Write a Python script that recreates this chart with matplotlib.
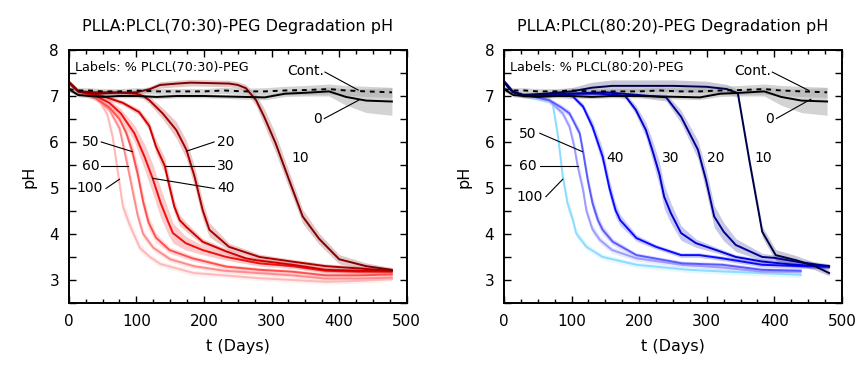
import matplotlib.pyplot as plt
from matplotlib.ticker import MultipleLocator

# controls are the same in both panels
ctrl_days = [0, 14, 30, 50, 75, 100, 130, 160, 200, 230, 260, 290, 320, 350, 385, 410, 440, 478]
cont_ph = [7.15, 7.12, 7.12, 7.1, 7.1, 7.12, 7.1, 7.1, 7.1, 7.12, 7.1, 7.1, 7.12, 7.13, 7.15, 7.12, 7.1, 7.08]
cont_sd = [0.07, 0.06, 0.06, 0.06, 0.06, 0.06, 0.06, 0.06, 0.06, 0.07, 0.07, 0.08, 0.09, 0.1, 0.11, 0.11, 0.11, 0.11]
zero_ph = [7.15, 7.02, 7.0, 6.98, 7.0, 7.0, 6.98, 7.0, 7.0, 6.99, 6.98, 6.97, 7.05, 7.07, 7.1, 6.98, 6.9, 6.88]
zero_sd = [0.05, 0.04, 0.04, 0.04, 0.04, 0.04, 0.04, 0.04, 0.04, 0.04, 0.05, 0.05, 0.06, 0.07, 0.1, 0.18, 0.26, 0.3]

# ---- PLLA:PLCL(70:30)-PEG ----
a10_days = [0, 14, 40, 70, 100, 120, 135, 160, 180, 210, 237, 250, 262, 277, 289, 306, 326, 346, 370, 400, 440, 478]
a10_ph = [7.3, 7.1, 7.05, 7.07, 7.08, 7.15, 7.24, 7.27, 7.29, 7.28, 7.27, 7.24, 7.17, 6.91, 6.55, 5.97, 5.17, 4.38, 3.9, 3.45, 3.3, 3.22]
a10_sd = [0.05, 0.05, 0.05, 0.05, 0.05, 0.06, 0.07, 0.07, 0.07, 0.07, 0.07, 0.07, 0.08, 0.12, 0.18, 0.2, 0.18, 0.15, 0.12, 0.1, 0.07, 0.05]

a20_days = [0, 14, 40, 70, 100, 110, 119, 139, 159, 174, 186, 198, 208, 237, 282, 330, 380, 430, 478]
a20_ph = [7.3, 7.1, 7.08, 7.08, 7.05, 7.0, 6.91, 6.62, 6.26, 5.83, 5.25, 4.52, 4.09, 3.72, 3.5, 3.4, 3.3, 3.25, 3.2]
a20_sd = [0.05, 0.05, 0.05, 0.05, 0.05, 0.06, 0.08, 0.12, 0.18, 0.2, 0.22, 0.2, 0.15, 0.08, 0.06, 0.05, 0.05, 0.05, 0.05]

a30_days = [0, 14, 50, 80, 104, 119, 129, 142, 149, 156, 164, 174, 198, 233, 262, 277, 331, 380, 430, 478]
a30_ph = [7.3, 7.1, 7.0, 6.85, 6.65, 6.35, 5.9, 5.48, 5.03, 4.6, 4.3, 4.15, 3.83, 3.62, 3.47, 3.43, 3.33, 3.22, 3.2, 3.2]
a30_sd = [0.05, 0.05, 0.05, 0.05, 0.07, 0.1, 0.15, 0.18, 0.18, 0.15, 0.12, 0.1, 0.07, 0.06, 0.05, 0.05, 0.05, 0.05, 0.05, 0.05]

a40_days = [0, 14, 40, 60, 77, 97, 112, 124, 136, 146, 154, 173, 198, 233, 282, 331, 380, 430, 478]
a40_ph = [7.3, 7.1, 7.0, 6.85, 6.62, 6.19, 5.68, 5.21, 4.67, 4.3, 4.02, 3.8, 3.65, 3.5, 3.36, 3.3, 3.2, 3.18, 3.18]
a40_sd = [0.05, 0.05, 0.05, 0.07, 0.1, 0.18, 0.28, 0.32, 0.32, 0.28, 0.22, 0.15, 0.1, 0.07, 0.06, 0.05, 0.05, 0.05, 0.05]

a50_days = [0, 14, 40, 60, 75, 85, 94, 102, 110, 118, 129, 149, 183, 233, 282, 330, 380, 430, 478]
a50_ph = [7.3, 7.1, 6.95, 6.75, 6.5, 6.2, 5.79, 5.3, 4.7, 4.25, 3.92, 3.65, 3.47, 3.29, 3.22, 3.18, 3.1, 3.1, 3.12]
a50_sd = [0.05, 0.05, 0.05, 0.06, 0.08, 0.12, 0.18, 0.2, 0.18, 0.15, 0.1, 0.07, 0.06, 0.05, 0.05, 0.05, 0.05, 0.05, 0.05]

a60_days = [0, 14, 40, 60, 75, 87, 95, 102, 110, 125, 150, 185, 230, 280, 330, 380, 430, 478]
a60_ph = [7.3, 7.1, 6.95, 6.7, 6.3, 5.48, 4.9, 4.4, 4.0, 3.7, 3.45, 3.3, 3.2, 3.15, 3.1, 3.03, 3.03, 3.05]
a60_sd = [0.05, 0.05, 0.05, 0.07, 0.12, 0.18, 0.18, 0.15, 0.1, 0.07, 0.06, 0.05, 0.05, 0.05, 0.05, 0.05, 0.05, 0.05]

a100_days = [0, 14, 30, 45, 57, 65, 72, 80, 90, 105, 120, 135, 160, 185, 230, 280, 330, 380, 430, 478]
a100_ph = [7.3, 7.1, 7.05, 6.9, 6.6, 6.1, 5.4, 4.6, 4.2, 3.7, 3.5, 3.35, 3.25, 3.15, 3.1, 3.04, 3.0, 2.96, 2.98, 3.02]
a100_sd = [0.05, 0.05, 0.05, 0.06, 0.1, 0.15, 0.18, 0.18, 0.15, 0.1, 0.07, 0.06, 0.06, 0.06, 0.05, 0.05, 0.05, 0.05, 0.05, 0.05]

# ---- PLLA:PLCL(80:20)-PEG ----
b10_days = [0, 13, 28, 60, 100, 130, 160, 200, 250, 300, 330, 346, 363, 378, 382, 402, 432, 460, 481]
b10_ph = [7.31, 7.09, 7.02, 7.05, 7.1, 7.18, 7.22, 7.22, 7.22, 7.2, 7.15, 7.06, 5.6, 4.38, 4.05, 3.54, 3.43, 3.3, 3.15]
b10_sd = [0.05, 0.05, 0.05, 0.06, 0.08, 0.12, 0.13, 0.13, 0.13, 0.12, 0.1, 0.08, 0.1, 0.12, 0.12, 0.12, 0.1, 0.08, 0.06]

b20_days = [0, 13, 28, 60, 100, 150, 200, 240, 262, 287, 299, 311, 325, 343, 382, 400, 440, 481]
b20_ph = [7.31, 7.09, 7.02, 7.02, 7.05, 7.08, 7.02, 6.97, 6.55, 5.83, 5.17, 4.38, 4.05, 3.76, 3.5, 3.48, 3.38, 3.3]
b20_sd = [0.05, 0.05, 0.05, 0.05, 0.05, 0.05, 0.05, 0.08, 0.14, 0.2, 0.24, 0.24, 0.2, 0.14, 0.08, 0.06, 0.05, 0.05]

b30_days = [0, 13, 28, 60, 100, 140, 170, 180, 195, 210, 220, 230, 237, 247, 262, 284, 314, 343, 382, 430, 481]
b30_ph = [7.31, 7.09, 7.02, 7.02, 7.05, 7.05, 7.02, 6.99, 6.7, 6.26, 5.8, 5.3, 4.81, 4.45, 4.02, 3.8, 3.65, 3.5, 3.4, 3.33, 3.29]
b30_sd = [0.05, 0.05, 0.05, 0.05, 0.05, 0.05, 0.05, 0.06, 0.1, 0.16, 0.22, 0.26, 0.26, 0.22, 0.16, 0.09, 0.06, 0.05, 0.05, 0.05, 0.05]

b40_days = [0, 13, 28, 50, 80, 102, 117, 131, 146, 156, 165, 172, 196, 225, 262, 289, 323, 382, 440, 481]
b40_ph = [7.31, 7.09, 7.02, 7.02, 7.03, 6.99, 6.77, 6.33, 5.68, 5.0, 4.52, 4.3, 3.91, 3.72, 3.54, 3.54, 3.47, 3.33, 3.3, 3.29]
b40_sd = [0.05, 0.05, 0.05, 0.05, 0.05, 0.05, 0.07, 0.12, 0.18, 0.18, 0.15, 0.12, 0.07, 0.05, 0.05, 0.05, 0.05, 0.05, 0.05, 0.05]

b50_days = [0, 13, 28, 48, 67, 85, 97, 112, 117, 124, 131, 139, 146, 161, 196, 264, 323, 382, 439]
b50_ph = [7.31, 7.09, 7.02, 6.97, 6.91, 6.75, 6.62, 6.19, 5.79, 5.17, 4.67, 4.3, 4.09, 3.83, 3.54, 3.36, 3.33, 3.22, 3.2]
b50_sd = [0.05, 0.05, 0.05, 0.05, 0.05, 0.06, 0.07, 0.1, 0.13, 0.15, 0.15, 0.12, 0.1, 0.07, 0.05, 0.05, 0.05, 0.05, 0.05]

b60_days = [0, 13, 28, 48, 67, 87, 97, 104, 109, 117, 122, 131, 142, 160, 196, 264, 323, 382, 439]
b60_ph = [7.31, 7.09, 7.02, 6.97, 6.9, 6.62, 6.33, 5.9, 5.48, 4.96, 4.5, 4.1, 3.87, 3.65, 3.47, 3.33, 3.27, 3.18, 3.18]
b60_sd = [0.05, 0.05, 0.05, 0.05, 0.05, 0.07, 0.1, 0.13, 0.15, 0.15, 0.13, 0.1, 0.08, 0.07, 0.06, 0.05, 0.05, 0.05, 0.05]

b100_days = [0, 13, 28, 48, 62, 72, 80, 87, 94, 102, 107, 122, 146, 196, 274, 330, 382, 439]
b100_ph = [7.31, 7.09, 7.02, 6.95, 6.91, 6.84, 6.12, 5.25, 4.67, 4.3, 4.01, 3.72, 3.5, 3.33, 3.22, 3.18, 3.15, 3.11]
b100_sd = [0.05, 0.05, 0.05, 0.05, 0.05, 0.07, 0.12, 0.15, 0.15, 0.12, 0.1, 0.07, 0.06, 0.06, 0.06, 0.06, 0.06, 0.06]

red_colors = {"10": "#7f0000", "20": "#a80000", "30": "#d00000", "40": "#f01010",
              "50": "#ff5050", "60": "#ff8c8c", "100": "#ffb8b8"}
blue_colors = {"10": "#00004a", "20": "#000090", "30": "#0000d0", "40": "#0a0aff",
               "50": "#5a5aff", "60": "#9c9cff", "100": "#8cdcff"}

left_series = [("100", a100_days, a100_ph, a100_sd), ("60", a60_days, a60_ph, a60_sd),
               ("50", a50_days, a50_ph, a50_sd), ("40", a40_days, a40_ph, a40_sd),
               ("30", a30_days, a30_ph, a30_sd), ("20", a20_days, a20_ph, a20_sd),
               ("10", a10_days, a10_ph, a10_sd)]
right_series = [("100", b100_days, b100_ph, b100_sd), ("60", b60_days, b60_ph, b60_sd),
                ("50", b50_days, b50_ph, b50_sd), ("40", b40_days, b40_ph, b40_sd),
                ("30", b30_days, b30_ph, b30_sd), ("20", b20_days, b20_ph, b20_sd),
                ("10", b10_days, b10_ph, b10_sd)]


def band(ax, x, y, sd, color, alpha):
    lo = [v - s for v, s in zip(y, sd)]
    hi = [v + s for v, s in zip(y, sd)]
    ax.fill_between(x, lo, hi, color=color, alpha=alpha, linewidth=0)


def label(ax, text, xy, start=None, end=None, ha="left"):
    ax.text(xy[0], xy[1], text, fontsize=10, ha=ha, va="center")
    if start is not None:
        ax.plot([start[0], end[0]], [start[1], end[1]], color="black", lw=0.8)


def draw_panel(ax, series, colors, title, plcl):
    for name, d, ph, sd in series:
        band(ax, d, ph, sd, colors[name], 0.22)
        ax.plot(d, ph, color=colors[name], lw=1.4)
    band(ax, ctrl_days, zero_ph, zero_sd, "#a8a8a8", 0.5)
    band(ax, ctrl_days, cont_ph, cont_sd, "#a8a8a8", 0.5)
    ax.plot(ctrl_days, zero_ph, color="black", lw=1.4)
    ax.plot(ctrl_days, cont_ph, color="black", lw=1.4, ls=(0, (2.5, 2.5)))

    ax.set_xlim(0, 500)
    ax.set_ylim(2.5, 8)
    ax.set_yticks([3, 4, 5, 6, 7, 8])
    ax.xaxis.set_major_locator(MultipleLocator(100))
    ax.xaxis.set_minor_locator(MultipleLocator(25))
    ax.yaxis.set_minor_locator(MultipleLocator(0.5))
    ax.tick_params(which="both", direction="in", top=True, right=True, width=1)
    ax.tick_params(which="major", length=5, labelsize=11)
    ax.tick_params(axis="x", which="major", pad=8)
    ax.tick_params(axis="y", which="major", pad=7)
    ax.tick_params(axis="x", which="minor", length=3)
    ax.tick_params(axis="y", which="minor", length=5)
    for s in ax.spines.values():
        s.set_linewidth(1.4)
    ax.set_xlabel("t (Days)", fontsize=11.5, labelpad=7)
    ax.set_ylabel("pH", fontsize=11.5, labelpad=9)
    ax.set_title(title, fontsize=11.5, pad=14)
    ax.text(9, 7.63, f"Labels: % PLCL({plcl})-PEG", fontsize=9.2, ha="left", va="center")


fig = plt.figure(figsize=(8.6, 3.65), dpi=100)
ax1 = fig.add_axes([0.080, 0.170, 0.393, 0.693])
ax2 = fig.add_axes([0.586, 0.170, 0.393, 0.693])

draw_panel(ax1, left_series, red_colors, "PLLA:PLCL(70:30)-PEG Degradation pH", "70:30")
draw_panel(ax2, right_series, blue_colors, "PLLA:PLCL(80:20)-PEG Degradation pH", "80:20")

# left annotations
label(ax1, "Cont.", (377, 7.54), (379, 7.52), (428, 7.13), ha="right")
label(ax1, "0", (375, 6.5), (378, 6.51), (429, 6.91), ha="right")
label(ax1, "10", (330, 5.65))
label(ax1, "20", (219, 6.0), (215, 6.0), (174, 5.8))
label(ax1, "30", (219, 5.48), (215, 5.48), (142, 5.48))
label(ax1, "40", (219, 4.99), (215, 4.99), (124, 5.21))
label(ax1, "50", (45, 6.0), (48, 6.0), (94, 5.79), ha="right")
label(ax1, "60", (45, 5.48), (48, 5.48), (87, 5.48), ha="right")
label(ax1, "100", (51, 4.99), (55, 4.99), (75, 5.19), ha="right")

# right annotations
label(ax2, "Cont.", (395, 7.54), (397, 7.52), (451, 7.12), ha="right")
label(ax2, "0", (399, 6.5), (403, 6.51), (454, 6.93), ha="right")
label(ax2, "10", (370, 5.65))
label(ax2, "20", (301, 5.65))
label(ax2, "30", (233, 5.65))
label(ax2, "40", (152, 5.65))
label(ax2, "50", (48, 6.17), (53, 6.19), (116, 5.79), ha="right")
label(ax2, "60", (48, 5.48), (53, 5.48), (109, 5.48), ha="right")
label(ax2, "100", (58, 4.8), (62, 4.81), (87, 5.19), ha="right")

fig.savefig("out.png", dpi=100)
